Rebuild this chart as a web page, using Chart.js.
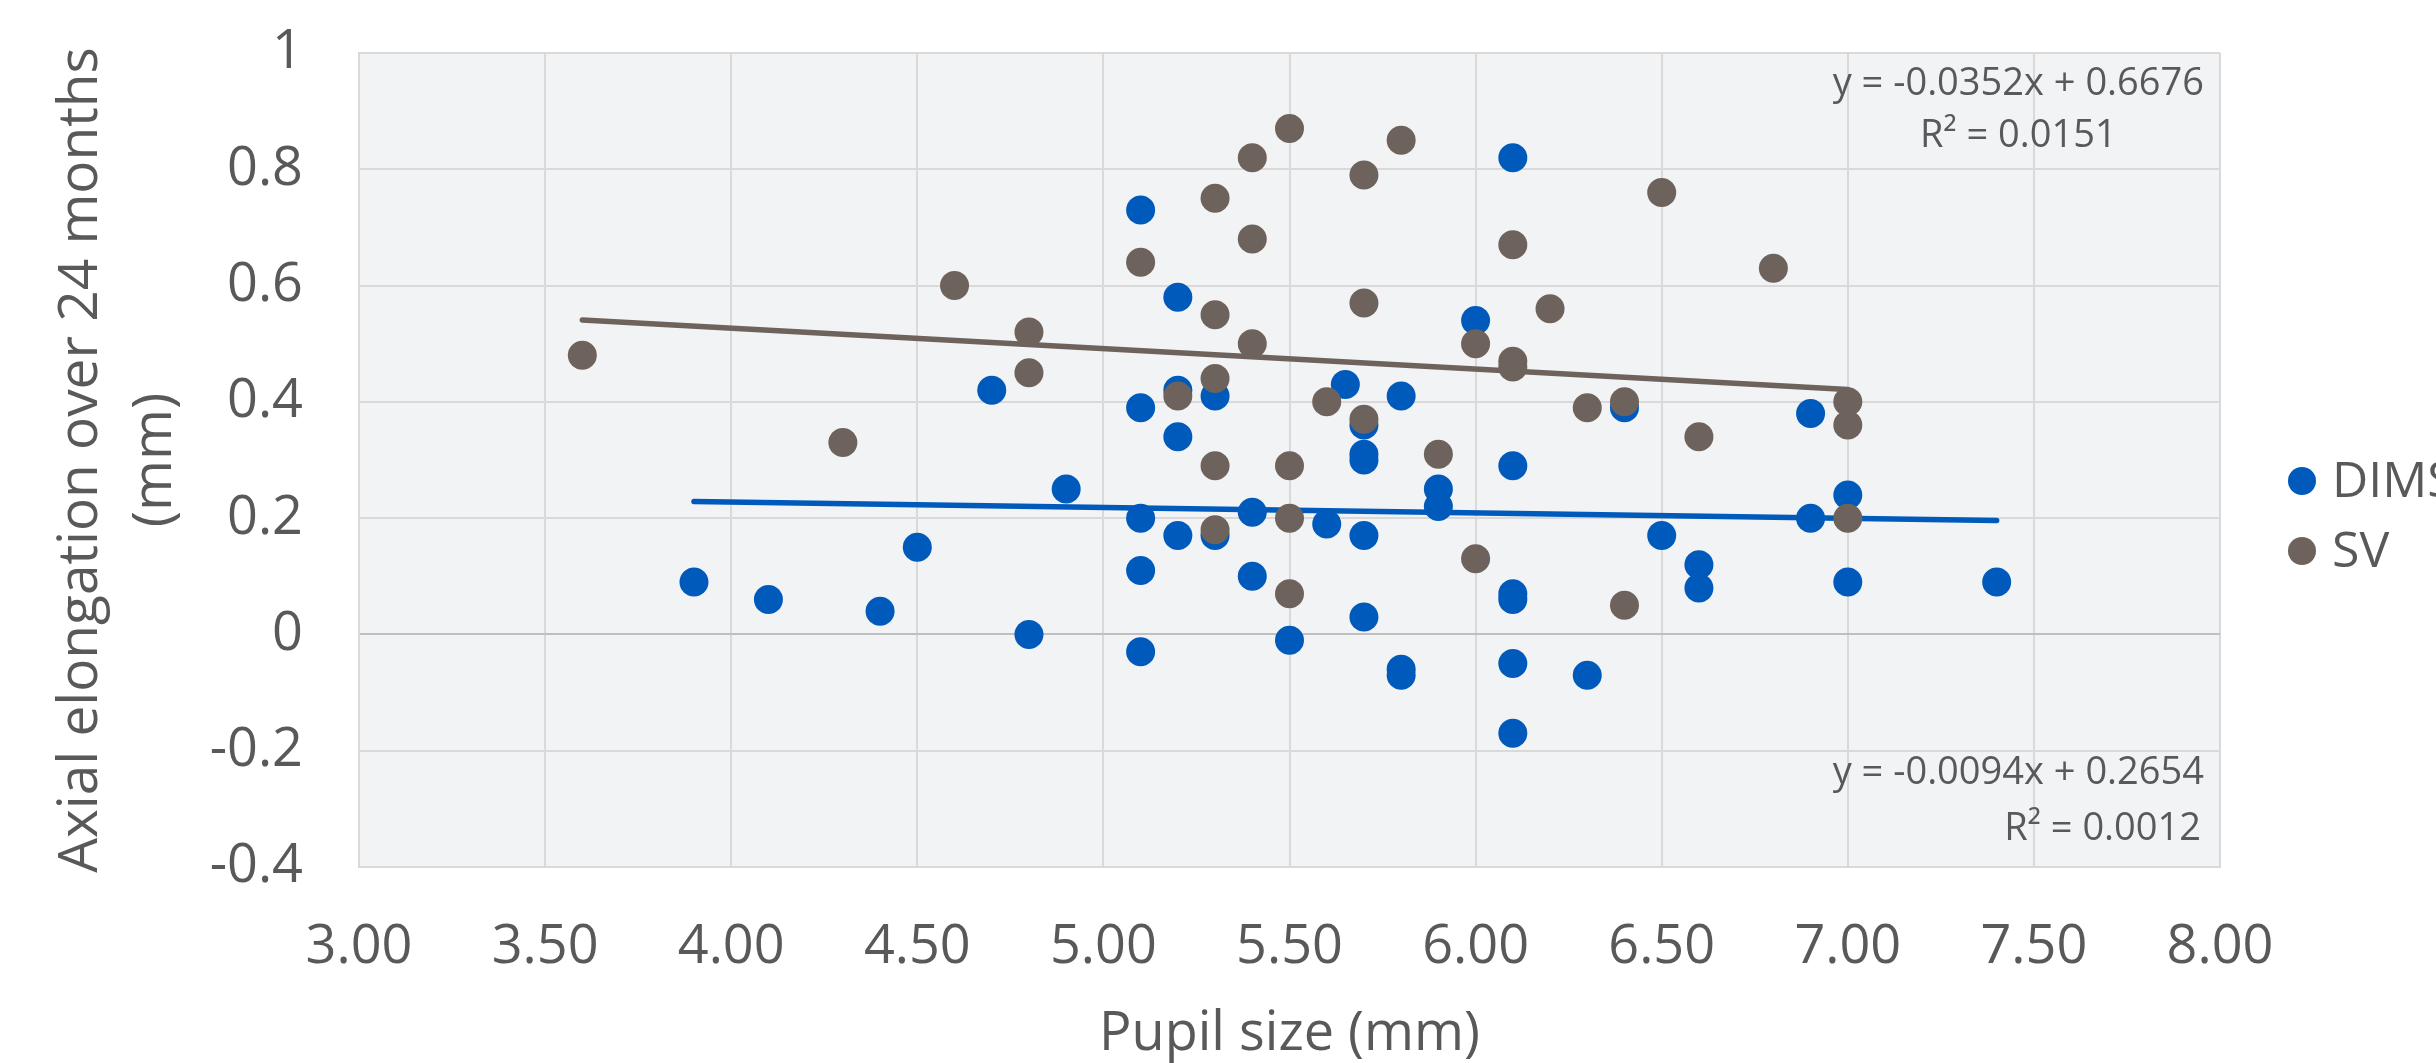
<!DOCTYPE html>
<html lang="en">
<head>
<meta charset="UTF-8">
<title>Pupil size vs axial elongation</title>
<script src="https://cdn.jsdelivr.net/npm/chart.js"></script>
<style>
    html, body { margin: 0; padding: 0; background: #ffffff; }
    #wrap { width: 2436px; height: 1063px; }
</style>
</head>
<body>
<div id="wrap"><canvas id="chart" width="2436" height="1063"></canvas></div>
<script>
    // DIMS group: pupil size (mm) and axial elongation (mm)
    const dimsPupil = [3.9, 4.1, 4.4, 4.5, 4.7, 4.8, 4.9,
        5.1, 5.1, 5.1, 5.1, 5.1, 5.2, 5.2, 5.2, 5.2, 5.3, 5.3, 5.4, 5.4,
        5.5, 5.6, 5.65, 5.7, 5.7, 5.7, 5.7, 5.7, 5.8, 5.8, 5.8, 5.9, 5.9,
        6.0, 6.1, 6.1, 6.1, 6.1, 6.1, 6.1, 6.3, 6.4, 6.5, 6.6, 6.6,
        6.9, 6.9, 7.0, 7.0, 7.4];
    const dimsElong = [0.09, 0.06, 0.04, 0.15, 0.42, 0.00, 0.25,
        0.73, 0.39, 0.20, 0.11, -0.03, 0.58, 0.42, 0.34, 0.17, 0.41, 0.17, 0.21, 0.10,
        -0.01, 0.19, 0.43, 0.36, 0.31, 0.30, 0.17, 0.03, 0.41, -0.06, -0.07, 0.25, 0.22,
        0.54, 0.82, 0.29, 0.07, 0.06, -0.05, -0.17, -0.07, 0.39, 0.17, 0.12, 0.08,
        0.38, 0.20, 0.24, 0.09, 0.09];

    // SV group
    const svPupil = [3.6, 4.3, 4.6, 4.8, 4.8, 5.1, 5.2,
        5.3, 5.3, 5.3, 5.3, 5.3, 5.4, 5.4, 5.4, 5.5, 5.5, 5.5, 5.5,
        5.6, 5.7, 5.7, 5.7, 5.8, 5.9, 6.0, 6.0, 6.1, 6.1, 6.1, 6.2,
        6.3, 6.4, 6.4, 6.5, 6.6, 6.8, 7.0, 7.0, 7.0];
    const svElong = [0.48, 0.33, 0.60, 0.52, 0.45, 0.64, 0.41,
        0.75, 0.55, 0.44, 0.29, 0.18, 0.82, 0.68, 0.50, 0.87, 0.29, 0.20, 0.07,
        0.40, 0.79, 0.57, 0.37, 0.85, 0.31, 0.50, 0.13, 0.67, 0.47, 0.46, 0.56,
        0.39, 0.40, 0.05, 0.76, 0.34, 0.63, 0.40, 0.36, 0.20];

    // linear trendlines as printed on the chart: slope, intercept, R²
    const dimsFit = [-0.0094, 0.2654, 0.0012];
    const svFit = [-0.0352, 0.6676, 0.0151];

    const xTicks = [3, 3.5, 4, 4.5, 5, 5.5, 6, 6.5, 7, 7.5, 8];
    const yTicks = [-0.4, -0.2, 0, 0.2, 0.4, 0.6, 0.8, 1];

    const BLUE = '#005ABB';
    const BROWN = '#6E625C';
    const TEXT = '#595959';

    function points(xs, ys) {
        return xs.map((x, i) => ({ x: x, y: ys[i] }));
    }
    function fitLine(xs, fit) {
        const lo = Math.min(...xs), hi = Math.max(...xs);
        return [{ x: lo, y: fit[0] * lo + fit[1] }, { x: hi, y: fit[0] * hi + fit[1] }];
    }
    function eqText(fit) {
        const s = fit[0] < 0 ? '-' : '';
        return 'y = ' + s + Math.abs(fit[0]).toFixed(4) + 'x + ' + fit[1].toFixed(4);
    }

    // grey plot area
    const plotBg = {
        id: 'plotBg',
        beforeDraw(chart) {
            const a = chart.chartArea, ctx = chart.ctx;
            ctx.save();
            ctx.fillStyle = '#F2F3F5';
            ctx.fillRect(a.left, a.top, a.right - a.left, a.bottom - a.top);
            ctx.restore();
        }
    };

    // legend on the right, partly cut off like the original
    const sideLegend = {
        id: 'sideLegend',
        afterDraw(chart) {
            const ctx = chart.ctx;
            const items = chart.data.datasets.filter(d => d.inLegend).reverse();
            ctx.save();
            ctx.font = '50px "Open Sans", sans-serif';
            ctx.textBaseline = 'middle';
            items.forEach((d, i) => {
                const y = 481 + i * 70;
                ctx.fillStyle = d.backgroundColor;
                ctx.beginPath();
                ctx.arc(chart.chartArea.right + 82, y, 14, 0, Math.PI * 2);
                ctx.fill();
                ctx.fillStyle = TEXT;
                ctx.fillText(d.label, chart.chartArea.right + 112, y + 2);
            });
            ctx.restore();
        }
    };

    // trendline equations
    const equations = {
        id: 'equations',
        afterDraw(chart) {
            const a = chart.chartArea, ctx = chart.ctx;
            ctx.save();
            ctx.font = '38px "Open Sans", sans-serif';
            ctx.fillStyle = TEXT;
            ctx.textBaseline = 'middle';
            // SV, top right, centred block
            const t1 = eqText(svFit);
            const w1 = ctx.measureText(t1).width;
            const cx = a.right - 16 - w1 / 2;
            ctx.textAlign = 'center';
            ctx.fillText(t1, cx, a.top + 31);
            ctx.fillText('R² = ' + svFit[2].toFixed(4), cx, a.top + 83);
            // DIMS, bottom right, right aligned
            ctx.textAlign = 'right';
            ctx.fillText(eqText(dimsFit), a.right - 16, a.bottom - 94);
            ctx.fillText('R² = ' + dimsFit[2].toFixed(4), a.right - 19, a.bottom - 38);
            ctx.restore();
        }
    };

    Chart.defaults.font.family = '"Open Sans", sans-serif';
    Chart.defaults.color = TEXT;

    new Chart(document.getElementById('chart'), {
        type: 'scatter',
        data: {
            // drawn back to front: DIMS, DIMS trend, SV, SV trend
            datasets: [
                {
                    label: 'SV trend', data: fitLine(svPupil, svFit), showLine: true,
                    borderColor: BROWN, borderWidth: 5.5, pointRadius: 0, borderCapStyle: 'round', order: 1
                },
                {
                    label: 'SV', data: points(svPupil, svElong), inLegend: true,
                    backgroundColor: BROWN, borderWidth: 0, pointRadius: 14.5, order: 2
                },
                {
                    label: 'DIMS trend', data: fitLine(dimsPupil, dimsFit), showLine: true,
                    borderColor: BLUE, borderWidth: 5.5, pointRadius: 0, borderCapStyle: 'round', order: 3
                },
                {
                    label: 'DIMS', data: points(dimsPupil, dimsElong), inLegend: true,
                    backgroundColor: BLUE, borderWidth: 0, pointRadius: 14.5, order: 4
                }
            ]
        },
        options: {
            responsive: false,
            animation: false,
            devicePixelRatio: 1,
            layout: { padding: { left: 0, top: 53, right: 216, bottom: 0 } },
            plugins: {
                legend: { display: false },
                tooltip: { enabled: false }
            },
            scales: {
                x: {
                    type: 'linear',
                    min: 3, max: 8,
                    afterBuildTicks: s => { s.ticks = xTicks.map(v => ({ value: v })); },
                    afterFit: s => { s.height = 196; },
                    grid: { color: '#D9D9D9', lineWidth: 2, drawTicks: false },
                    border: { color: '#D9D9D9', width: 2 },
                    ticks: {
                        padding: 48,
                        font: { size: 54 },
                        callback: v => Number(v).toFixed(2)
                    },
                    title: {
                        display: true, text: 'Pupil size (mm)',
                        font: { size: 54, lineHeight: 1 },
                        padding: { top: 0, bottom: 1 }
                    }
                },
                y: {
                    type: 'linear',
                    min: -0.4, max: 1,
                    afterBuildTicks: s => { s.ticks = yTicks.map(v => ({ value: v })); },
                    afterFit: s => { s.width = 359; s.paddingTop = 0; s.paddingBottom = 0; },
                    grid: {
                        color: c => (c.tick && c.tick.value === 0) ? '#BFBFBF' : '#D9D9D9',
                        lineWidth: 2, drawTicks: false
                    },
                    border: { color: '#D9D9D9', width: 2 },
                    ticks: {
                        padding: 56,
                        font: { size: 54 },
                        callback: v => String(Math.round(v * 10) / 10)
                    },
                    title: {
                        display: true,
                        text: ['Axial elongation over 24 months', '(mm)'],
                        font: { size: 55, lineHeight: 1.35 },
                        padding: { top: 44, bottom: 0 }
                    }
                }
            }
        },
        plugins: [plotBg, sideLegend, equations]
    });
</script>
</body>
</html>
